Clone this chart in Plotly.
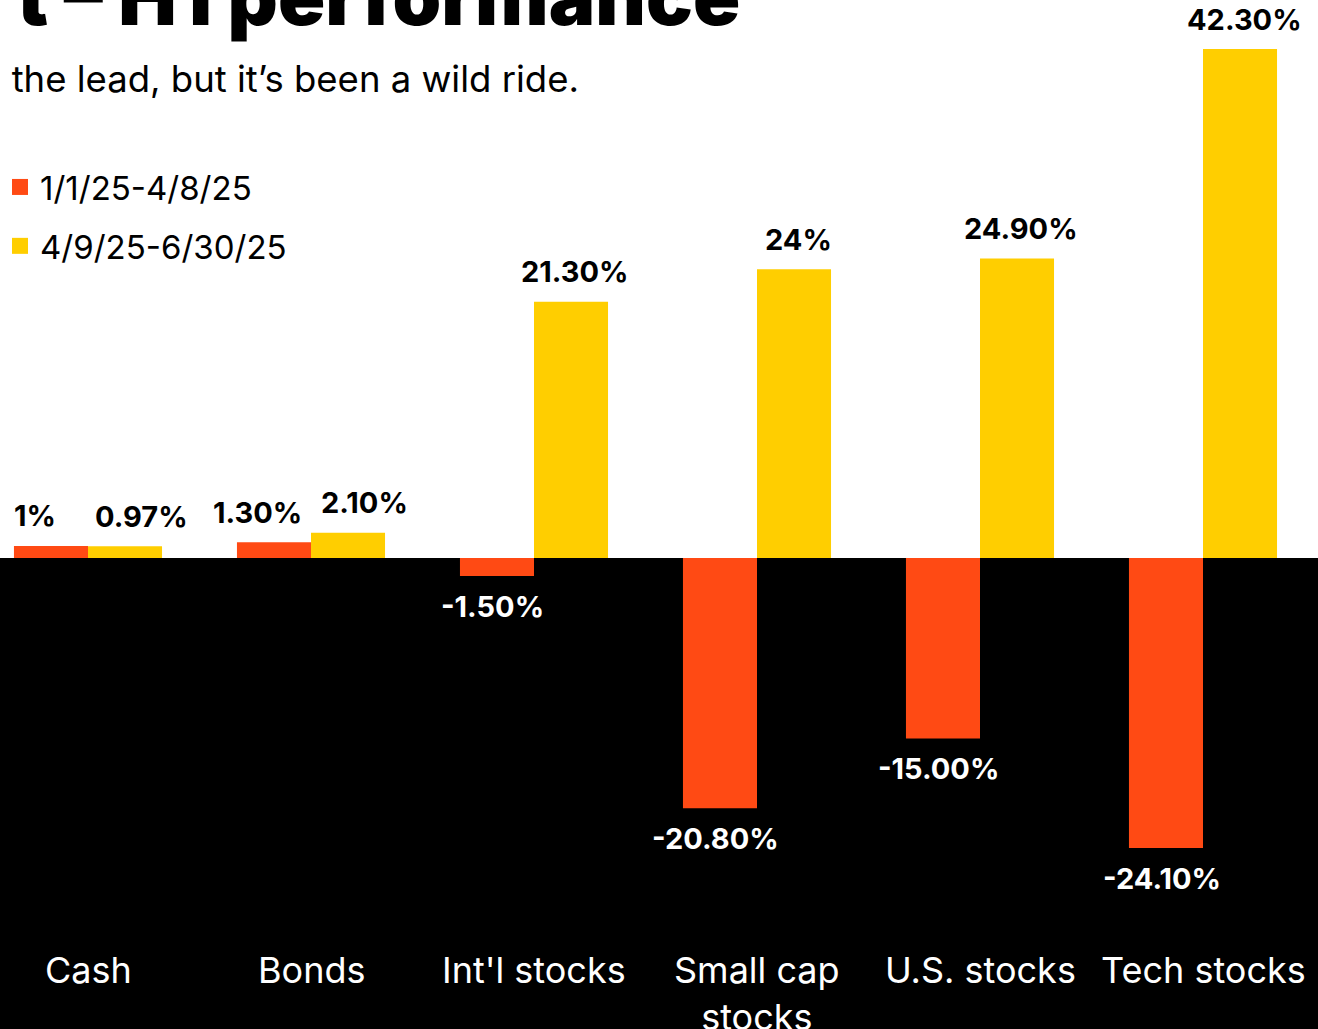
import plotly.graph_objects as go

categories = ["Cash", "Bonds", "Int'l stocks", "Small cap<br>stocks", "U.S. stocks", "Tech stocks"]
period1_name = "1/1/25-4/8/25"
period2_name = "4/9/25-6/30/25"
period1 = [1.0, 1.3, -1.5, -20.8, -15.0, -24.1]
period2 = [0.97, 2.1, 21.3, 24.0, 24.9, 42.3]
period1_labels = ["1%", "1.30%", "-1.50%", "-20.80%", "-15.00%", "-24.10%"]
period2_labels = ["0.97%", "2.10%", "21.30%", "24%", "24.90%", "42.30%"]

ORANGE = "#FF4A14"
YELLOW = "#FFCE00"
FONT = "Inter"

W, H = 1318, 1029
px_per_unit = 12.033
zero_px = 558
y_top = zero_px / px_per_unit
y_bottom = -(H - zero_px) / px_per_unit

fig = go.Figure()
fig.add_trace(go.Bar(x=categories, y=period1, name=period1_name, showlegend=False,
                     marker_color=ORANGE, marker_line_width=0))
fig.add_trace(go.Bar(x=categories, y=period2, name=period2_name, showlegend=False,
                     marker_color=YELLOW, marker_line_width=0))

# legend entries with bigger square swatches
for name, color, grp in ((period1_name, ORANGE, "a"), (period2_name, YELLOW, "b")):
    fig.add_trace(go.Scatter(x=[None], y=[None], mode="markers", name=name, legendgroup=grp,
                             marker=dict(symbol="square", size=16, color=color)))

# black band below zero
fig.add_shape(type="rect", xref="paper", x0=0, x1=1, yref="y", y0=0, y1=y_bottom - 5,
              fillcolor="black", line_width=0, layer="below")

# value labels, pushed apart when both bars sit above zero
for i, cat in enumerate(categories):
    both_up = period1[i] > 0 and period2[i] > 0
    for vals, labels, offset, side in ((period1, period1_labels, -0.185, -1),
                                       (period2, period2_labels, 0.185, 1)):
        v = vals[i]
        fig.add_annotation(
            x=i + offset, y=v, xref="x", yref="y", text=labels[i], showarrow=False,
            xshift=side * 12 if both_up else 0,
            yshift=30 if v > 0 else -30, yanchor="middle",
            font=dict(family=FONT, size=29, color="black" if v > 0 else "white", weight=700))

# category labels on the black band
for i, cat in enumerate(categories):
    fig.add_annotation(x=i, y=(zero_px - 946) / px_per_unit, xref="x", yref="y", text=cat,
                       showarrow=False, yanchor="top",
                       font=dict(family=FONT, size=36, color="white"))

# title and subtitle
fig.add_annotation(xref="paper", yref="paper", x=742 / W, y=1, xanchor="right", yanchor="middle",
                   yshift=4, text="t – H1 performance", showarrow=False,
                   font=dict(family=FONT, size=78, color="black", weight=900))
fig.add_annotation(xref="paper", yref="paper", x=581 / W, y=1 - 79 / H, xanchor="right",
                   yanchor="middle", text="g the lead, but it’s been a wild ride.", showarrow=False,
                   font=dict(family=FONT, size=36.5, color="black"))

fig.update_layout(
    width=W, height=H,
    margin=dict(l=0, r=0, t=0, b=0, pad=0),
    paper_bgcolor="white", plot_bgcolor="white",
    barmode="group", bargap=0.336, bargroupgap=0,
    xaxis=dict(range=[-0.3946, 5.5157], showticklabels=False, showgrid=False, zeroline=False,
               fixedrange=True),
    yaxis=dict(range=[y_bottom, y_top], showticklabels=False, showgrid=False, zeroline=False,
               fixedrange=True),
    showlegend=True,
    legend=dict(x=0, y=1 - 159 / H, xanchor="left", yanchor="top", traceorder="grouped",
                tracegroupgap=13, itemwidth=30, bgcolor="rgba(0,0,0,0)",
                font=dict(family=FONT, size=33, color="black")),
)

fig.write_html("out.html", config={"displayModeBar": False},
               post_script="document.body.style.margin='0';")
